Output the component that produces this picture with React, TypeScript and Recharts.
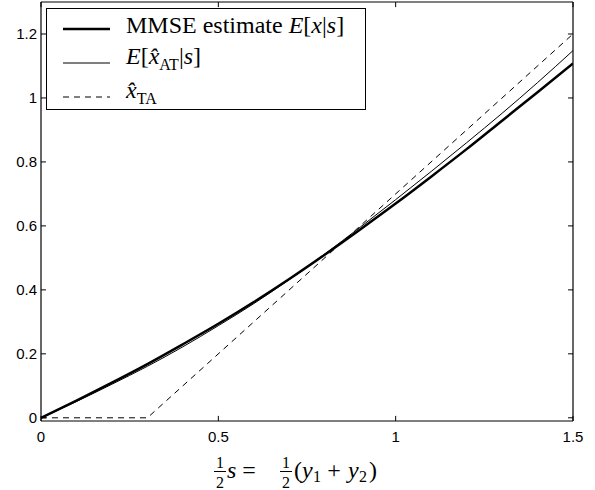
import React from "react";
import { LineChart, Line, XAxis, YAxis, ReferenceLine, Legend } from "recharts";

// s = (y1 + y2) / 2 sample points and the estimates
const sValues = [0, 0.1, 0.2, 0.3, 0.4, 0.5, 0.6, 0.7, 0.8, 0.9, 1.0, 1.1, 1.2, 1.3, 1.4, 1.5];
const mmseValues = [0, 0.054, 0.11, 0.168, 0.23, 0.294, 0.362, 0.434, 0.51, 0.589, 0.67, 0.754, 0.84, 0.929, 1.018, 1.108];
const atValues = [0, 0.051, 0.105, 0.161, 0.222, 0.288, 0.357, 0.432, 0.512, 0.596, 0.682, 0.77, 0.86, 0.952, 1.048, 1.148];
const taS = [0, 0.3, 1.5];
const taValues = [0, 0, 1.2];

const xTicks = [0, 0.5, 1, 1.5];
const yTicks = [0, 0.2, 0.4, 0.6, 0.8, 1, 1.2];

const mmseData = sValues.map((s, i) => ({ s, v: mmseValues[i] }));
const atData = sValues.map((s, i) => ({ s, v: atValues[i] }));
const taData = taS.map((s, i) => ({ s, v: taValues[i] }));

const X_MIN = 0;
const X_MAX = 1.5;
const Y_MIN = -0.01;
const Y_MAX = 1.3;
const TICK_DX = 0.014;
const TICK_DY = 0.016;

const serif = '"Liberation Serif", "Times New Roman", serif';
const sans = '"Liberation Sans", Arial, sans-serif';

function Hat({ children }: { children: React.ReactNode }) {
  return <i>{children}{"\u0302"}</i>;
}

const legendRows = [
  {
    width: 2.5,
    dash: undefined as string | undefined,
    label: (
      <>
        MMSE estimate <i>E</i>[<i>x</i>|<i>s</i>]
      </>
    ),
  },
  {
    width: 1,
    dash: undefined as string | undefined,
    label: (
      <>
        <i>E</i>[<Hat>x</Hat>
        <sub style={{ fontSize: 16 }}>AT</sub>|<i>s</i>]
      </>
    ),
  },
  {
    width: 1,
    dash: "6 5",
    label: (
      <>
        <Hat>x</Hat>
        <sub style={{ fontSize: 16 }}>TA</sub>
      </>
    ),
  },
];

function LegendBox() {
  return (
    <div
      style={{
        width: 320,
        height: 102,
        boxSizing: "border-box",
        border: "1.5px solid #000",
        background: "#fff",
        paddingTop: 2.5,
        fontFamily: serif,
        fontSize: 24,
        color: "#000",
      }}
    >
      {legendRows.map((r, i) => (
        <div key={i} style={{ height: 34, display: "flex", alignItems: "center" }}>
          <svg width={47} height={10} style={{ marginLeft: 16 }}>
            <line x1={0} y1={5} x2={47} y2={5} stroke="#000" strokeWidth={r.width} strokeDasharray={r.dash} />
          </svg>
          <span style={{ marginLeft: 16, position: "relative", top: -4, lineHeight: 1, whiteSpace: "nowrap" }}>
            {r.label}
          </span>
        </div>
      ))}
    </div>
  );
}

function Frac({ x, y }: { x: number; y: number }) {
  return (
    <g fontFamily={serif} fontSize={16} fill="#000">
      <text x={x} y={y - 10} textAnchor="middle">1</text>
      <line x1={x - 6} y1={y - 6.5} x2={x + 6} y2={y - 6.5} stroke="#000" strokeWidth={1} />
      <text x={x} y={y + 10} textAnchor="middle">2</text>
    </g>
  );
}

function XLabel(props: any) {
  const vb = props.viewBox || { x: 41, y: 421, width: 532, height: 69 };
  const cx = vb.x + vb.width / 2;
  const y = vb.y + 57;
  return (
    <g fontFamily={serif} fontSize={24} fill="#000">
      <Frac x={cx - 87} y={y} />
      <text x={cx - 80} y={y} fontStyle="italic">s</text>
      <text x={cx - 58} y={y} textAnchor="middle">=</text>
      <Frac x={cx - 21} y={y} />
      <text x={cx - 13} y={y}>(</text>
      <text x={cx - 5} y={y} fontStyle="italic">y</text>
      <text x={cx + 6} y={y + 4} fontSize={16}>1</text>
      <text x={cx + 27} y={y} textAnchor="middle">+</text>
      <text x={cx + 41} y={y} fontStyle="italic">y</text>
      <text x={cx + 52} y={y + 4} fontSize={16}>2</text>
      <text x={cx + 62} y={y}>)</text>
    </g>
  );
}

export default function App() {
  const tickStyle = { fill: "#000", fontSize: 15, fontFamily: sans };
  return (
    <div style={{ position: "absolute", left: 0, top: 0, width: 595, height: 490, background: "#fff" }}>
      <LineChart width={595} height={490} margin={{ top: 2, right: 22, left: 0, bottom: 0 }}>
        <XAxis
          type="number"
          dataKey="s"
          domain={[X_MIN, X_MAX]}
          allowDataOverflow
          ticks={xTicks}
          interval={0}
          tickFormatter={(v: number) => String(v)}
          tickLine={false}
          tickSize={0}
          tickMargin={10}
          tick={tickStyle}
          axisLine={{ stroke: "#000", strokeWidth: 1.2 }}
          height={69}
          label={<XLabel />}
        />
        <YAxis
          type="number"
          domain={[Y_MIN, Y_MAX]}
          allowDataOverflow
          ticks={yTicks}
          interval={0}
          tickFormatter={(v: number) => String(v)}
          tickLine={false}
          tickSize={0}
          tickMargin={4}
          tick={tickStyle}
          axisLine={{ stroke: "#000", strokeWidth: 1.2 }}
          width={41}
        />
        {/* box frame */}
        <ReferenceLine y={Y_MAX} stroke="#000" strokeWidth={1.2} ifOverflow="extendDomain" />
        <ReferenceLine x={X_MAX} stroke="#000" strokeWidth={1.2} ifOverflow="extendDomain" />
        {/* inward ticks on all four sides */}
        {xTicks.map((t) => (
          <ReferenceLine key={"xb" + t} segment={[{ x: t, y: Y_MIN }, { x: t, y: Y_MIN + TICK_DY }]} stroke="#000" ifOverflow="visible" />
        ))}
        {xTicks.map((t) => (
          <ReferenceLine key={"xt" + t} segment={[{ x: t, y: Y_MAX }, { x: t, y: Y_MAX - TICK_DY }]} stroke="#000" ifOverflow="visible" />
        ))}
        {yTicks.map((t) => (
          <ReferenceLine key={"yl" + t} segment={[{ x: X_MIN, y: t }, { x: X_MIN + TICK_DX, y: t }]} stroke="#000" ifOverflow="visible" />
        ))}
        {yTicks.map((t) => (
          <ReferenceLine key={"yr" + t} segment={[{ x: X_MAX, y: t }, { x: X_MAX - TICK_DX, y: t }]} stroke="#000" ifOverflow="visible" />
        ))}
        <Line data={taData} dataKey="v" type="linear" stroke="#000" strokeWidth={1} strokeDasharray="6 5" dot={false} isAnimationActive={false} />
        <Line data={atData} dataKey="v" type="monotone" stroke="#000" strokeWidth={1} dot={false} isAnimationActive={false} />
        <Line data={mmseData} dataKey="v" type="monotone" stroke="#000" strokeWidth={2.5} dot={false} isAnimationActive={false} />
        <Legend
          layout="vertical"
          align="center"
          verticalAlign="middle"
          wrapperStyle={{ position: "absolute", left: 46, top: 8, width: 320, height: 102 }}
          content={<LegendBox />}
        />
      </LineChart>
    </div>
  );
}
